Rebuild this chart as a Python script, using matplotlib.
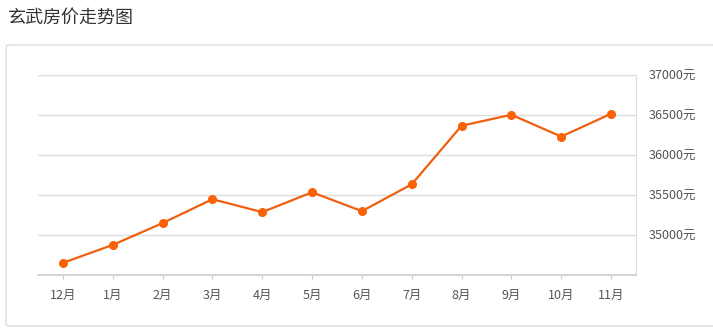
import matplotlib.pyplot as plt
from matplotlib.patches import FancyBboxPatch

plt.rcParams['font.family'] = ['Noto Sans CJK SC', 'DejaVu Sans']

months = ['12月', '1月', '2月', '3月', '4月', '5月', '6月', '7月', '8月', '9月', '10月', '11月']
prices = [34652, 34876, 35149, 35447, 35286, 35534, 35298, 35634, 36366, 36503, 36230, 36516]
ytick_vals = [35000, 35500, 36000, 36500, 37000]

W, H = 713, 335
fig = plt.figure(figsize=(W / 100, H / 100), dpi=100)

# outer card border
card = FancyBboxPatch((6 / W, 9 / H), (W - 4) / W, (290 - 9) / H,
                      boxstyle='round,pad=0,rounding_size=0.005',
                      transform=fig.transFigure, facecolor='white',
                      edgecolor='#dddddd', linewidth=1, zorder=-1)
fig.patches.append(card)

fig.text(8 / W, 1 - 18 / H, '玄武房价走势图', fontsize=13, color='#333333',
         va='center', ha='left')

ax = fig.add_axes([38 / W, 60 / H, (636 - 38) / W, 200 / H])
ax.patch.set_alpha(0)
x = list(range(len(months)))
ax.plot(x, prices, color='#ef5f0f', linewidth=1.6, marker='o',
        markersize=5.5, markerfacecolor='#fb6206', markeredgecolor='#fb6206',
        zorder=3)

ax.set_xlim(-0.5, len(months) - 0.5)
ax.set_ylim(34500, 37000)
ax.set_xticks(x)
ax.set_xticklabels(months)
ax.set_yticks(ytick_vals)
ax.set_yticklabels([f'{v}元' for v in ytick_vals])
ax.yaxis.tick_right()
ax.grid(axis='y', color='#dddddd', linewidth=1)
ax.set_axisbelow(True)

for s in ['top', 'left']:
    ax.spines[s].set_visible(False)
ax.spines['bottom'].set_color('#cccccc')
ax.spines['bottom'].set_linewidth(1.2)
ax.spines['right'].set_color('#dddddd')

ax.tick_params(axis='y', length=0, pad=9, labelsize=9, labelcolor='#555555')
ax.tick_params(axis='x', length=3, color='#cccccc', pad=7, labelsize=9,
               labelcolor='#555555')

fig.savefig('out.png', dpi=100, facecolor='white')
